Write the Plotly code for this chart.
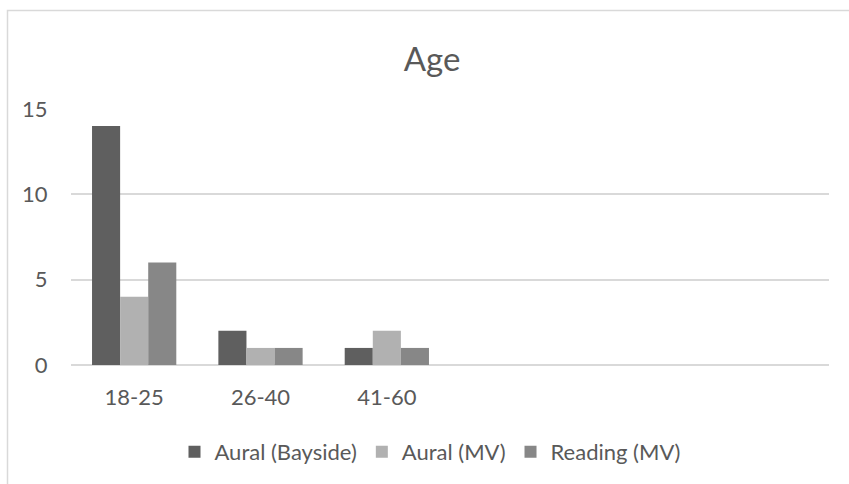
import plotly.graph_objects as go

# Age groups and counts per group
age_groups = ["18-25", "26-40", "41-60"]
aural_bayside = [14, 2, 1]
aural_mv = [4, 1, 2]
reading_mv = [6, 1, 1]

series_names = ["Aural (Bayside)", "Aural (MV)", "Reading (MV)"]
series_colors = ["#5f5f5f", "#b1b1b1", "#878787"]

text_color = "#595959"
font_family = "Lato, Calibri, Carlito, sans-serif"

fig = go.Figure()
for name, vals, col in zip(series_names, [aural_bayside, aural_mv, reading_mv], series_colors):
    fig.add_trace(go.Bar(
        x=age_groups, y=vals, name=name,
        marker=dict(color=col, line=dict(width=0)),
    ))

# plot area in pixels: left 71, right 829, top 109, bottom 366
W, H = 849, 484
L, R, T, B = 71, 20, 109, 118
pw, ph = W - L - R, H - T - B

def px_x(p):
    return (p - L) / pw

def px_y(p):
    return (H - B - p) / ph

fig.update_layout(
    width=W, height=H,
    margin=dict(l=L, r=R, t=T, b=B),
    paper_bgcolor="white", plot_bgcolor="white",
    barmode="group", bargap=0.333, bargroupgap=0,
    font=dict(family=font_family, color=text_color, size=22),
    title=dict(text="Age", x=px_x(432), xanchor="center", xref="paper",
               y=1 - 59 / H, yanchor="middle",
               font=dict(size=33, color=text_color, family=font_family)),
    xaxis=dict(type="category", range=[-0.5, 5.5], showgrid=False,
               showline=False, zeroline=False, ticks="outside", ticklen=13,
               tickcolor="rgba(0,0,0,0)", tickfont=dict(size=22, color=text_color)),
    yaxis=dict(range=[0, 15], tickvals=[0, 5, 10, 15], showgrid=True,
               gridcolor="#d9d9d9", gridwidth=1.5, zeroline=True,
               zerolinecolor="#d9d9d9", zerolinewidth=1.5, showline=False,
               ticks="outside", ticklen=18, tickcolor="rgba(0,0,0,0)",
               tickfont=dict(size=22, color=text_color)),
    legend=dict(orientation="h", x=px_x(430), xanchor="center",
                y=px_y(452), yanchor="middle", font=dict(size=22, color=text_color),
                bgcolor="rgba(0,0,0,0)", itemclick=False, itemwidth=30),
    showlegend=True,
    shapes=[dict(type="rect", xref="paper", yref="paper",
                 x0=px_x(7.5), x1=px_x(880), y0=px_y(520), y1=px_y(10),
                 line=dict(color="#d9d9d9", width=1.5), fillcolor="rgba(0,0,0,0)",
                 layer="below")],
)

fig.write_html("out.html")
